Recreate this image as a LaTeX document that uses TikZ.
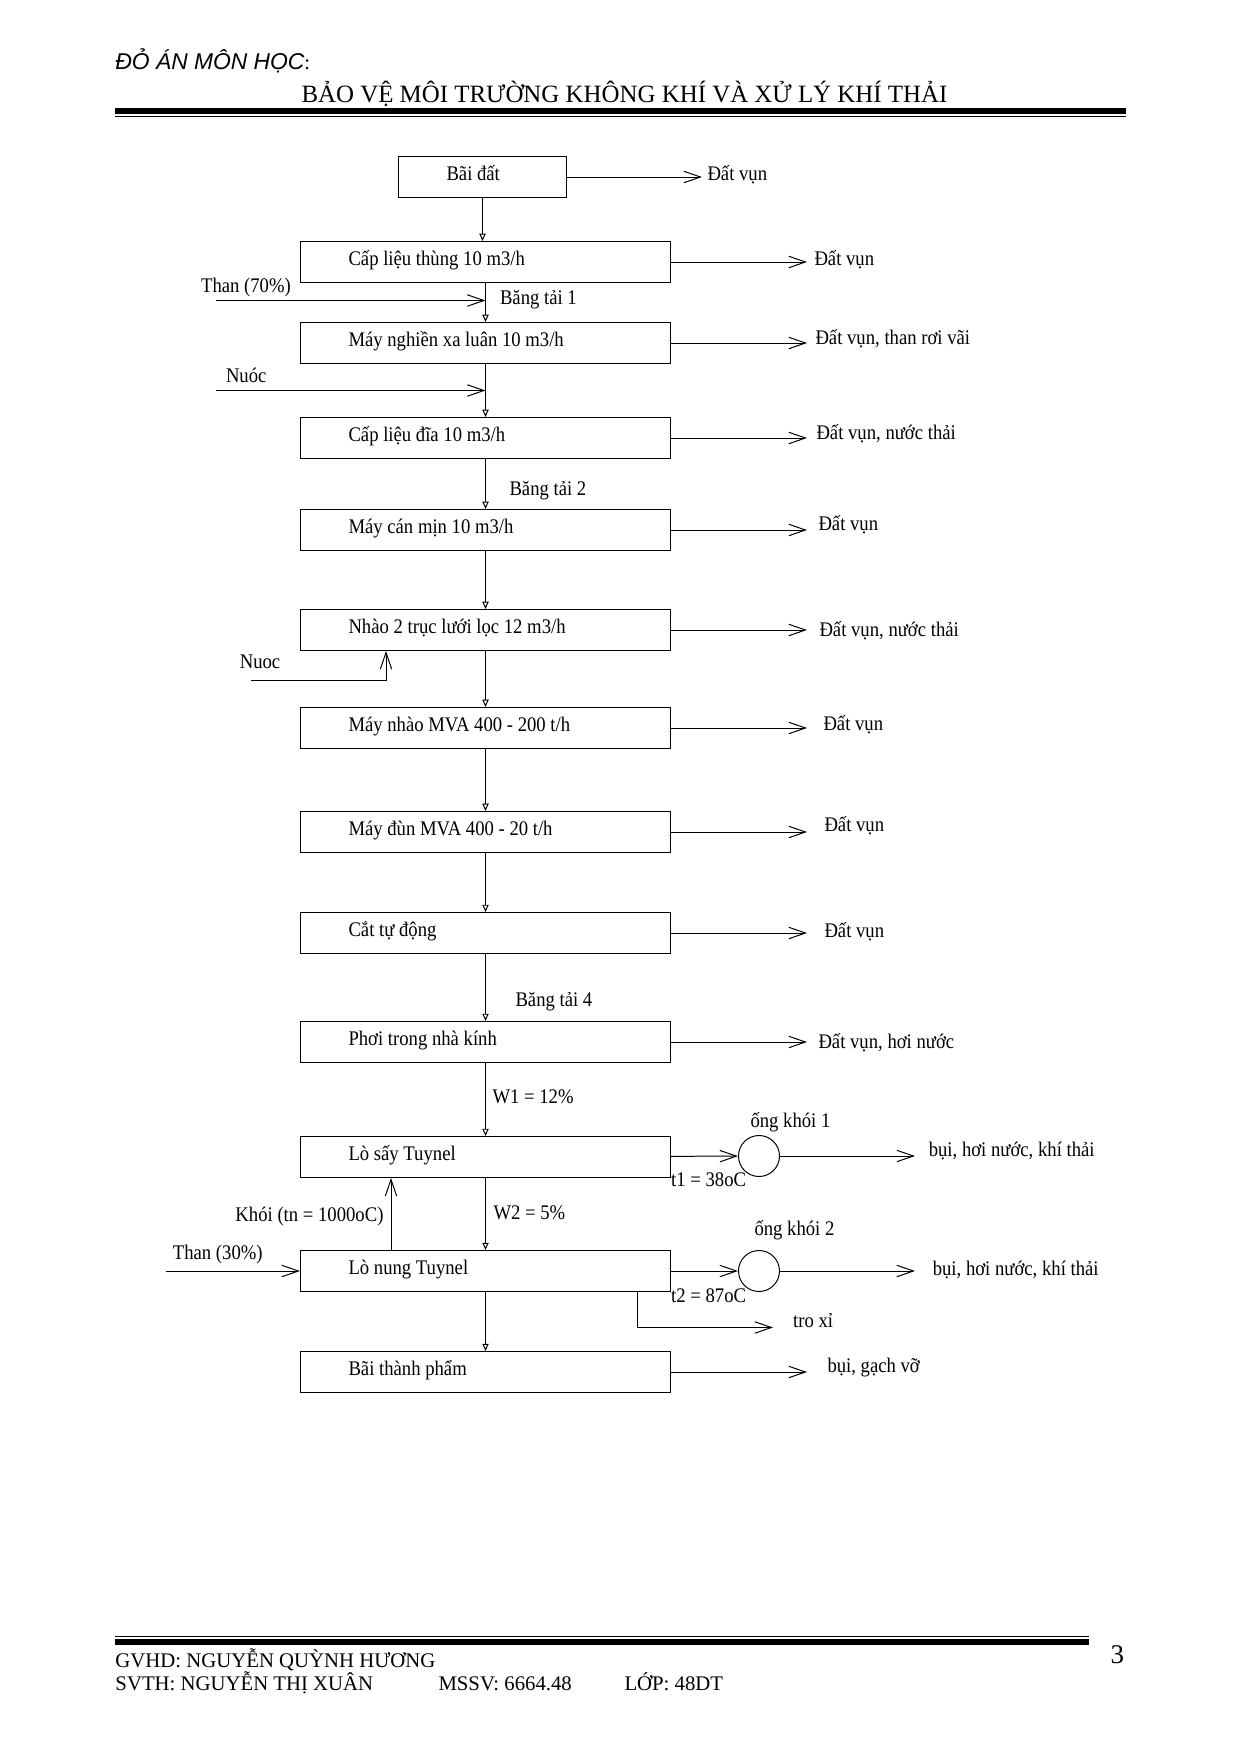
\documentclass[tikz,border=0pt]{standalone}
\usepackage{fontspec}
\setmainfont{Liberation Serif}
\newfontfamily\diagfont{Liberation Serif}[FakeStretch=0.9]
\newfontfamily\headfont{Liberation Sans}
\usetikzlibrary{arrows.meta}
\newlength\pu
\setlength\pu{0.16935mm}
\tikzset{
    box/.style={draw, inner xsep=48\pu, inner ysep=0pt, text width=#1, align=flush left,
        minimum height=41\pu, text height=4.8pt, text depth=1pt, font=\diagfont},
    box/.default=274\pu,
    lbl/.style={anchor=base west, inner sep=0pt, font=\diagfont},
    plain/.style={anchor=base west, inner sep=0pt},
    outarr/.style={-{Straight Barb[length=8pt,width=5.5pt]}},
    downarr/.style={-{Triangle[open,length=3.5pt,width=3pt]}},
    stack/.style={draw, circle, minimum size=41\pu, inner sep=0pt}
}

\begin{document}
\begin{tikzpicture}[x=\pu, y=-\pu, line width=0.48pt]
\useasboundingbox (0,0) rectangle (1240,1753);
% header
\node[plain] (hd1) at (115,69) {{\headfont\itshape\fontsize{11}{13}\selectfont ĐỎ ÁN MÔN HỌC}:};
\node[plain, font=\fontsize{12}{14}\selectfont] (hd2) at (301,102) {BẢO VỆ MÔI TRƯỜNG KHÔNG KHÍ VÀ XỬ LÝ KHÍ THẢI};
\fill (115,108.3) rectangle (1126,114);
\fill (115,116) rectangle (1126,117.3);
% process boxes
\node[box=72\pu] (bai) at (482.5,177) {Bãi đất};
\node[box] (capthung) at (485.5,262) {Cấp liệu thùng 10 m3/h};
\node[box] (nghien) at (485.5,343) {Máy nghiền xa luân 10 m3/h};
\node[box] (capdia) at (485.5,438) {Cấp liệu đĩa 10 m3/h};
\node[box] (can) at (485.5,530) {Máy cán mịn 10 m3/h};
\node[box] (nhao) at (485.5,630) {Nhào 2 trục lưới lọc 12 m3/h};
\node[box] (mva) at (485.5,728) {Máy nhào MVA 400 - 200 t/h};
\node[box] (dun) at (485.5,832) {Máy đùn MVA 400 - 20 t/h};
\node[box] (cat) at (485.5,933) {Cắt tự động};
\node[box] (phoi) at (485.5,1042) {Phơi trong nhà kính};
\node[box] (say) at (485.5,1157) {Lò sấy Tuynel};
\node[box] (nung) at (485.5,1271) {Lò nung Tuynel};
\node[box] (thanhpham) at (485.5,1372) {Bãi thành phẩm};
% main flow
\draw[downarr] (bai.south) -- (bai.south |- capthung.north);
\foreach \a/\b in {capthung/nghien,nghien/capdia,capdia/can,can/nhao,nhao/mva,mva/dun,dun/cat,cat/phoi,phoi/say,say/nung,nung/thanhpham}
    \draw[downarr] (\a) -- (\b);
\node[lbl] (bt1) at (499.5,304) {Băng tải 1};
\node[lbl] (bt2) at (509,495) {Băng tải 2};
\node[lbl] (bt4) at (515,1006) {Băng tải 4};
\node[lbl] (w1) at (492,1103) {W1 = 12\%};
\node[lbl] (w2) at (493,1219) {W2 = 5\%};
% inputs
\coordinate (than1) at (216,300.5);
\draw[outarr] (than1) -- (than1 -| capthung);
\node[lbl] (lthan1) at (200.6,292) {Than (70\%)};
\coordinate (nuoc1) at (216,390.5);
\draw[outarr] (nuoc1) -- (nuoc1 -| nghien);
\node[lbl] (lnuoc1) at (225.5,382) {Nuóc};
\coordinate (nuoc2) at (251,680.5);
\draw[outarr] (nuoc2) -| ([xshift=86\pu]nhao.south west);
\node[lbl] (lnuoc2) at (239.3,668) {Nuoc};
\draw[outarr] ([xshift=91\pu]nung.north west) -- ([xshift=91\pu]say.south west);
\node[lbl, anchor=base east] (khoi) at (384,1221) {Khói (tn = 1000oC)};
\coordinate (than2) at (166,1271);
\draw[outarr] (than2) -- (nung);
\node[lbl] (lthan2) at (172.4,1259) {Than (30\%)};
% waste outputs
\coordinate (rx1) at (702,0);
\coordinate (rx) at (807,0);
\draw[outarr] (bai) -- (bai -| rx1);
\foreach \b in {capthung,nghien,capdia,can,nhao,mva,dun,cat,phoi,thanhpham}
    \draw[outarr] (\b) -- (\b -| rx);
\node[lbl] (o1) at (707,180) {Đất vụn};
\node[lbl] (o2) at (814,265) {Đất vụn};
\node[lbl] (o3) at (815,344) {Đất vụn, than rơi vãi};
\node[lbl] (o4) at (816,439) {Đất vụn, nước thải};
\node[lbl] (o5) at (818,530) {Đất vụn};
\node[lbl] (o6) at (819,636) {Đất vụn, nước thải};
\node[lbl] (o7) at (823,730) {Đất vụn};
\node[lbl] (o8) at (824,831) {Đất vụn};
\node[lbl] (o9) at (824,937) {Đất vụn};
\node[lbl] (o10) at (818,1048) {Đất vụn, hơi nước};
\node[lbl] (o13) at (827,1372) {bụi, gạch vỡ};
% chimneys
\node[stack] (ong1) at (759,1156) {};
\node[stack] (ong2) at (759,1271) {};
\draw[outarr] (say) -- (ong1);
\draw[outarr] (nung) -- (ong2);
\coordinate (rx2) at (915,0);
\draw[outarr] (ong1) -- (ong1 -| rx2);
\draw[outarr] (ong2) -- (ong2 -| rx2);
\node[lbl] (long1) at (750,1127) {ống khói 1};
\node[lbl] (long2) at (754,1235) {ống khói 2};
\node[lbl] (t1) at (670.7,1186) {t1 = 38oC};
\node[lbl] (t2) at (670.7,1302) {t2 = 87oC};
\node[lbl] (k1) at (928.3,1156) {bụi, hơi nước, khí thải};
\node[lbl] (k2) at (932.3,1275) {bụi, hơi nước, khí thải};
\coordinate (tro) at (773,1327.5);
\draw[outarr] ([xshift=337\pu]nung.south west) |- (tro);
\node[lbl] (ltro) at (792.7,1327) {tro xỉ};
% footer
\fill (115,1636) rectangle (1088.5,1637.3);
\fill (115,1639) rectangle (1088.5,1644.7);
\node[plain] (gv) at (115,1667.3) {GVHD: NGUYỄN QUỲNH HƯƠNG};
\node[plain] (sv) at (115,1690.7) {SVTH: NGUYỄN THỊ XUÂN};
\node[plain] (mssv) at (438,1690.7) {MSSV: 6664.48};
\node[plain] (lop) at (624,1690.7) {LỚP: 48DT};
\node[plain, font=\fontsize{13}{15}\selectfont] (page) at (1110,1663) {3};
\end{tikzpicture}
\end{document}
